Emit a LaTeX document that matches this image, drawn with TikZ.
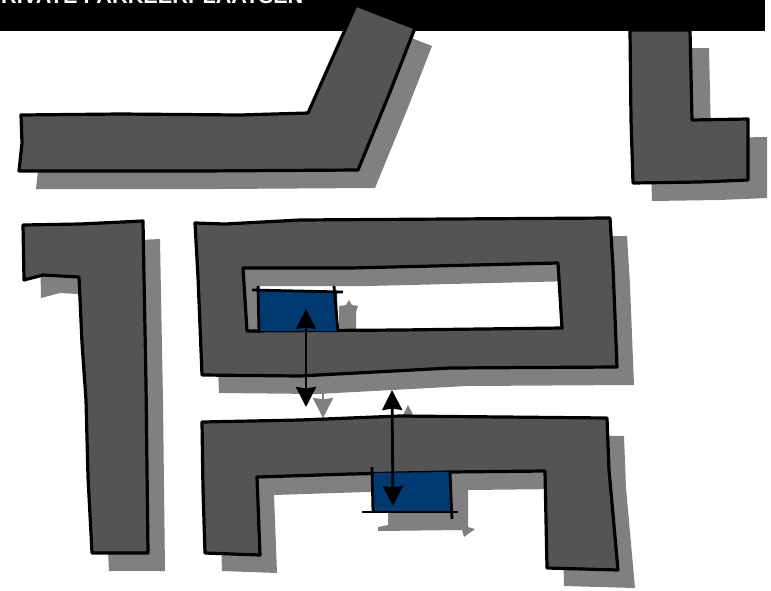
\documentclass[tikz,border=0pt]{standalone}
\usepackage{fontspec}
\setmainfont{Liberation Sans}
\usepackage{xcolor}
\usetikzlibrary{arrows.meta}
\definecolor{blokgrijs}{HTML}{555353}
\definecolor{schaduwgrijs}{HTML}{808080}
\definecolor{plekblauw}{HTML}{003A70}

% outlines of the blocks, in pixels of the plan
\def\blokA{(21,115) -- (120,114) -- (240,115) -- (308,113) -- (356,5) -- (415,28) -- (390,92) -- (358,170) -- (200,171) -- (19,171) -- (22,143) -- cycle}
\def\blokB{(630,30) -- (690,30) -- (692,120) -- (748,119) -- (748,180) -- (700,182) -- (633,183) -- (631,120) -- cycle}
\def\blokC{(23,225) -- (80,224) -- (143,221) -- (144,277) -- (146,383) -- (148,553) -- (92,553) -- (88,477) -- (86,400) -- (82,343) -- (79,277) -- (43,275) -- (24,280) -- cycle}
\def\blokD{(195,223) -- (225,224) -- (300,220) -- (450,219) -- (610,218) -- (613,267) -- (617,367) -- (450,368) -- (300,376) -- (202,375) -- (198,277) -- cycle (243,268) -- (350,268) -- (558,263) -- (562,328) -- (400,330) -- (247,331) -- cycle}
\def\blokE{(202,422) -- (300,420) -- (400,416) -- (607,418) -- (609,470) -- (618,570) -- (547,568) -- (545,471) -- (450,472) -- (350,474) -- (257,477) -- (260,555) -- (205,553) -- (203,490) -- cycle}

\begin{document}
\begin{tikzpicture}[
    x=1pt,y=-1pt,
    blok/.style={draw=black,line width=3.2pt,line join=round,fill=blokgrijs,even odd rule},
    schaduw/.style={fill=schaduwgrijs,even odd rule,shift={(17,18)}},
    plek/.style={fill=plekblauw},
    rand/.style={draw=black,line width=2.8pt},
    pijl/.style={{Stealth[inset=1.5pt,length=20pt,width=20pt]}-{Stealth[inset=1.5pt,length=20pt,width=20pt]},line width=2.8pt}
]
\clip (0,0) rectangle (771,590);
\fill[white] (0,0) rectangle (771,590);
\fill[black] (0,0) rectangle (765,31);
\node[anchor=base west,inner sep=0pt,text=white,font=\bfseries\fontsize{21.7}{21.7}\selectfont] (titel) at (1,3.5) {RIVATE PARKEERPLAATSEN};

\coordinate (p1boven) at (306,309);
\coordinate (p1onder) at (306,407);
\coordinate (p2boven) at (392,390);
\coordinate (p2onder) at (393,506);

% shadows
\fill[schaduw] \blokA;
\fill[schaduw,xshift=2pt] \blokB;
\fill[schaduw] \blokC;
\fill[schaduw] \blokD;
\fill[schaduw] \blokE;
\fill[schaduwgrijs] (339,306) -- (346,305) -- (349,300) -- (352,305) -- (358,306) -- (356,312) -- (356,329) -- (339,329) -- cycle;
\fill[schaduwgrijs] (388,510) -- (452,510) -- (452,488) -- (468,488) -- (468,527) -- (475,529) -- (464,537) -- (462,530) -- (378,531) -- (378,527) -- (388,525) -- cycle;
\draw[pijl,schaduwgrijs] ([shift={(17,11)}]p1boven) -- ([shift={(17,11)}]p1onder);
\draw[pijl,schaduwgrijs] ([shift={(16,15)}]p2boven) -- ([shift={(16,15)}]p2onder);

% blocks
\draw[blok] \blokA;
\draw[blok] \blokB;
\draw[blok] \blokC;
\draw[blok] \blokD;
\draw[blok] \blokE;

% parking spots
\fill[plek] (259,290) -- (337,292) -- (338,331) -- (258,331) -- cycle;
\draw[rand] (252,290) -- (343,292);
\draw[rand] (258,286) -- (259,333);
\draw[rand] (334,286) -- (338,332);
\fill[plek] (373,473) -- (450,472) -- (452,512) -- (373,512) -- cycle;
\draw[rand] (362,512) -- (458,512);
\draw[rand] (372,467) -- (373,512);
\draw[rand] (450,472) -- (452,519);

\draw[pijl] (p1boven) -- (p1onder);
\draw[pijl] (p2boven) -- (p2onder);
\end{tikzpicture}
\end{document}
